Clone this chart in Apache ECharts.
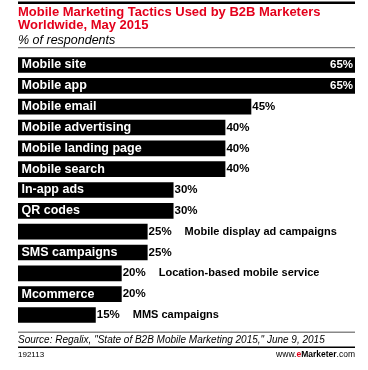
<!DOCTYPE html>
<html>
<head>
<meta charset="utf-8">
<script src="https://cdn.jsdelivr.net/npm/echarts@6/dist/echarts.min.js"></script>
<style>html,body{margin:0;padding:0;background:#fff}#c{width:368px;height:370px}</style>
</head>
<body>
<div id="c"></div>
<script>
var categories = ["Mobile site","Mobile app","Mobile email","Mobile advertising","Mobile landing page","Mobile search","In-app ads","QR codes","Mobile display ad campaigns","SMS campaigns","Location-based mobile service","Mcommerce","MMS campaigns"];
var values = [65,65,45,40,40,40,30,30,25,25,20,20,15];
var nameInside = [true,true,true,true,true,true,true,true,false,true,false,true,false];

var FONT = '"Liberation Sans", Arial, sans-serif';
var chart = echarts.init(document.getElementById('c'));

var barData = values.map(function(v,i){
  return {value:v, label:{show:nameInside[i], formatter:categories[i]}};
});
var lblData = values.map(function(v,i){
  var full = v >= 65;
  return {
    value:v,
    label:{
      position: full ? 'insideRight' : 'right',
      distance: full ? 2 : 1,
      color: full ? '#fff' : '#000',
      formatter: nameInside[i] ? v + '%' : '{v|' + v + '%}{n|' + categories[i] + '}'
    }
  };
});

chart.setOption({
  animation:false,
  grid:{left:18, right:13, top:54.6, bottom:44.6, containLabel:false},
  xAxis:{type:'value', min:0, max:65, show:false},
  yAxis:{type:'category', data:categories, inverse:true, show:false},
  series:[
    {type:'bar', data:barData, barCategoryGap:'25%', itemStyle:{color:'#000'},
     label:{show:true, position:'insideLeft', distance:3.5, color:'#fff', fontFamily:FONT, fontWeight:'bold', fontSize:12.5}},
    {type:'bar', data:lblData, barGap:'-100%', barCategoryGap:'25%', itemStyle:{color:'rgba(0,0,0,0)'},
     label:{show:true, fontFamily:FONT, fontWeight:'bold', fontSize:11.5,
       rich:{v:{fontFamily:FONT, fontWeight:'bold', fontSize:11.5, color:'#000', width:36},
             n:{fontFamily:FONT, fontWeight:'bold', fontSize:11, color:'#000'}}}}
  ],
  graphic:[
    {type:'rect', shape:{x:18, y:1.5, width:337, height:2.5}, style:{fill:'#000'}},
    {type:'text', x:18, y:12, style:{text:'Mobile Marketing Tactics Used by B2B Marketers', fontFamily:FONT, fontWeight:'bold', fontSize:13, fill:'#e3001b', verticalAlign:'middle'}},
    {type:'text', x:18, y:25, style:{text:'Worldwide, May 2015', fontFamily:FONT, fontWeight:'bold', fontSize:13, fill:'#e3001b', verticalAlign:'middle'}},
    {type:'text', x:18, y:40.5, style:{text:'% of respondents', fontFamily:FONT, fontStyle:'italic', fontSize:12.5, fill:'#000', verticalAlign:'middle'}},
    {type:'rect', shape:{x:18, y:47, width:337, height:1.2}, style:{fill:'#777'}},
    {type:'rect', shape:{x:18, y:331.5, width:337, height:1.5}, style:{fill:'#888'}},
    {type:'text', x:18, y:340, style:{text:'Source: Regalix, "State of B2B Mobile Marketing 2015," June 9, 2015', fontFamily:FONT, fontStyle:'italic', fontSize:10, fill:'#000', verticalAlign:'middle'}},
    {type:'rect', shape:{x:18, y:346.5, width:337, height:1.5}, style:{fill:'#000'}},
    {type:'text', x:18, y:355, style:{text:'192113', fontFamily:FONT, fontSize:8, fill:'#000', verticalAlign:'middle'}},
    {type:'text', x:355, y:355, style:{text:'{a|www.}{b|e}{c|Marketer}{a|.com}', align:'right', verticalAlign:'middle', fontFamily:FONT, fontSize:8.5,
      rich:{a:{fontFamily:FONT, fontSize:8.5, fill:'#000'}, b:{fontFamily:FONT, fontSize:8.5, fontWeight:'bold', fill:'#e3001b'}, c:{fontFamily:FONT, fontSize:8.5, fontWeight:'bold', fill:'#000'}}}}
  ]
});
</script>
</body>
</html>
